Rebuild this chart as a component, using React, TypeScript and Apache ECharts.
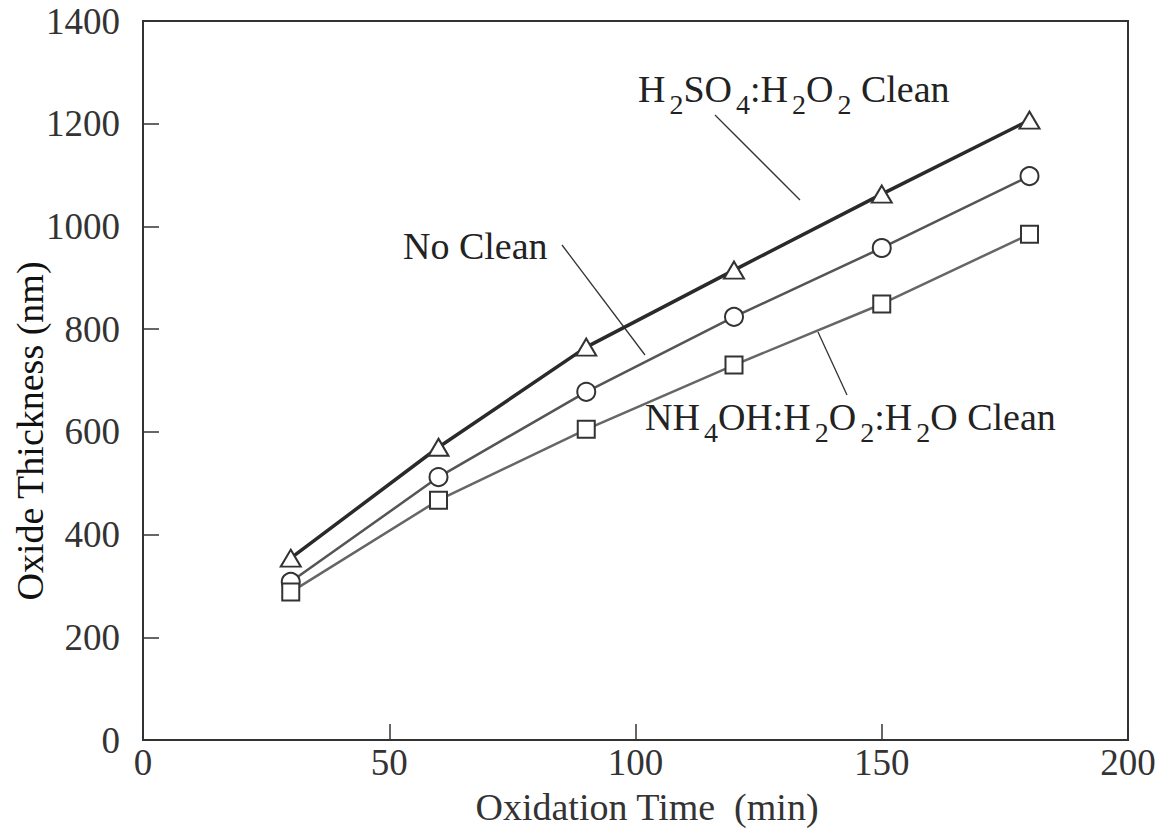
import React, { useEffect, useRef } from "react";
import * as echarts from "echarts";

const times = [30, 60, 90, 120, 150, 180];
const h2so4Clean = [354, 570, 765, 915, 1063, 1207];
const noClean = [308, 512, 678, 824, 958, 1098];
const nh4ohClean = [288, 467, 605, 730, 849, 985];
const xTicks = [0, 50, 100, 150, 200];
const yTicks = [0, 200, 400, 600, 800, 1000, 1200, 1400];

const FONT = "'Liberation Serif', 'DejaVu Serif', serif";

const pairs = (ys: number[]) => times.map((t, i) => [t, ys[i]]);

export default function App() {
  const ref = useRef<HTMLDivElement>(null);
  useEffect(() => {
    if (!ref.current) return;
    const chart = echarts.init(ref.current, undefined, { renderer: "svg" });
    const rich = {
      n: { fontSize: 38, fontFamily: FONT, color: "#222" },
      s: { fontSize: 28, fontFamily: FONT, color: "#222", padding: [30, 0, 0, 4] },
    };
    chart.setOption({
      animation: false,
      backgroundColor: "#fff",
      grid: {
        left: 143,
        top: 21,
        right: 43,
        bottom: 98,
        show: true,
        borderColor: "#333",
        borderWidth: 2,
        outerBoundsMode: "none",
        containLabel: false,
      },
      xAxis: {
        type: "value",
        min: xTicks[0],
        max: xTicks[xTicks.length - 1],
        interval: 50,
        axisLine: { show: true, lineStyle: { color: "#333", width: 2 } },
        axisTick: { show: true, inside: true, length: 16, lineStyle: { color: "#333", width: 1.5 } },
        axisLabel: {
          fontFamily: FONT,
          fontSize: 37,
          color: "#333",
          margin: 4,
          formatter: (v: number) => String(v),
        },
        splitLine: { show: false },
      },
      yAxis: {
        type: "value",
        min: yTicks[0],
        max: yTicks[yTicks.length - 1],
        interval: 200,
        axisLine: { show: true, lineStyle: { color: "#333", width: 2 } },
        axisTick: { show: true, inside: true, length: 16, lineStyle: { color: "#333", width: 1.5 } },
        axisLabel: {
          fontFamily: FONT,
          fontSize: 37,
          color: "#333",
          margin: 23,
          formatter: (v: number) => String(v),
        },
        splitLine: { show: false },
      },
      series: [
        {
          name: "H2SO4:H2O2 Clean",
          type: "line",
          data: pairs(h2so4Clean),
          symbol: "triangle",
          symbolSize: [20, 17],
          lineStyle: { color: "#2a2a2a", width: 3.5 },
          itemStyle: { color: "#fff", borderColor: "#333", borderWidth: 2 },
          z: 3,
        },
        {
          name: "No Clean",
          type: "line",
          data: pairs(noClean),
          symbol: "circle",
          symbolSize: 18,
          lineStyle: { color: "#555", width: 2.5 },
          itemStyle: { color: "#fff", borderColor: "#333", borderWidth: 2 },
          z: 3,
        },
        {
          name: "NH4OH:H2O2:H2O Clean",
          type: "line",
          data: pairs(nh4ohClean),
          symbol: "rect",
          symbolSize: 17,
          lineStyle: { color: "#666", width: 2.5 },
          itemStyle: { color: "#fff", borderColor: "#333", borderWidth: 2 },
          z: 3,
        },
      ],
      graphic: [
        {
          type: "text",
          x: 30,
          y: 431,
          rotation: Math.PI / 2,
          style: {
            text: "Oxide Thickness (nm)",
            font: `38px ${FONT}`,
            fill: "#111",
            align: "center",
            verticalAlign: "middle",
          },
        },
        {
          type: "text",
          x: 647,
          y: 807,
          style: {
            text: "Oxidation Time  (min)",
            font: `38px ${FONT}`,
            fill: "#333",
            align: "center",
            verticalAlign: "middle",
          },
        },
        {
          type: "text",
          left: 638,
          top: 70,
          style: {
            text: "H{s|2}SO{s|4}:H{s|2}O{s|2} Clean",
            rich,
            font: `38px ${FONT}`,
            fill: "#222",
          },
        },
        {
          type: "text",
          x: 403,
          y: 246,
          style: {
            text: "No Clean",
            font: `38px ${FONT}`,
            fill: "#222",
            verticalAlign: "middle",
          },
        },
        {
          type: "text",
          left: 645,
          top: 398,
          style: {
            text: "NH{s|4}OH:H{s|2}O{s|2}:H{s|2}O Clean",
            rich,
            font: `38px ${FONT}`,
            fill: "#222",
          },
        },
        {
          type: "line",
          shape: { x1: 715, y1: 115, x2: 800, y2: 200 },
          style: { stroke: "#333", lineWidth: 1.3 },
        },
        {
          type: "line",
          shape: { x1: 562, y1: 245, x2: 645, y2: 355 },
          style: { stroke: "#333", lineWidth: 1.3 },
        },
        {
          type: "line",
          shape: { x1: 847, y1: 395, x2: 818, y2: 332 },
          style: { stroke: "#333", lineWidth: 1.3 },
        },
      ],
    });
    return () => chart.dispose();
  }, []);
  return (
    <div
      ref={ref}
      style={{ position: "absolute", left: 0, top: 0, width: 1171, height: 838 }}
    />
  );
}
